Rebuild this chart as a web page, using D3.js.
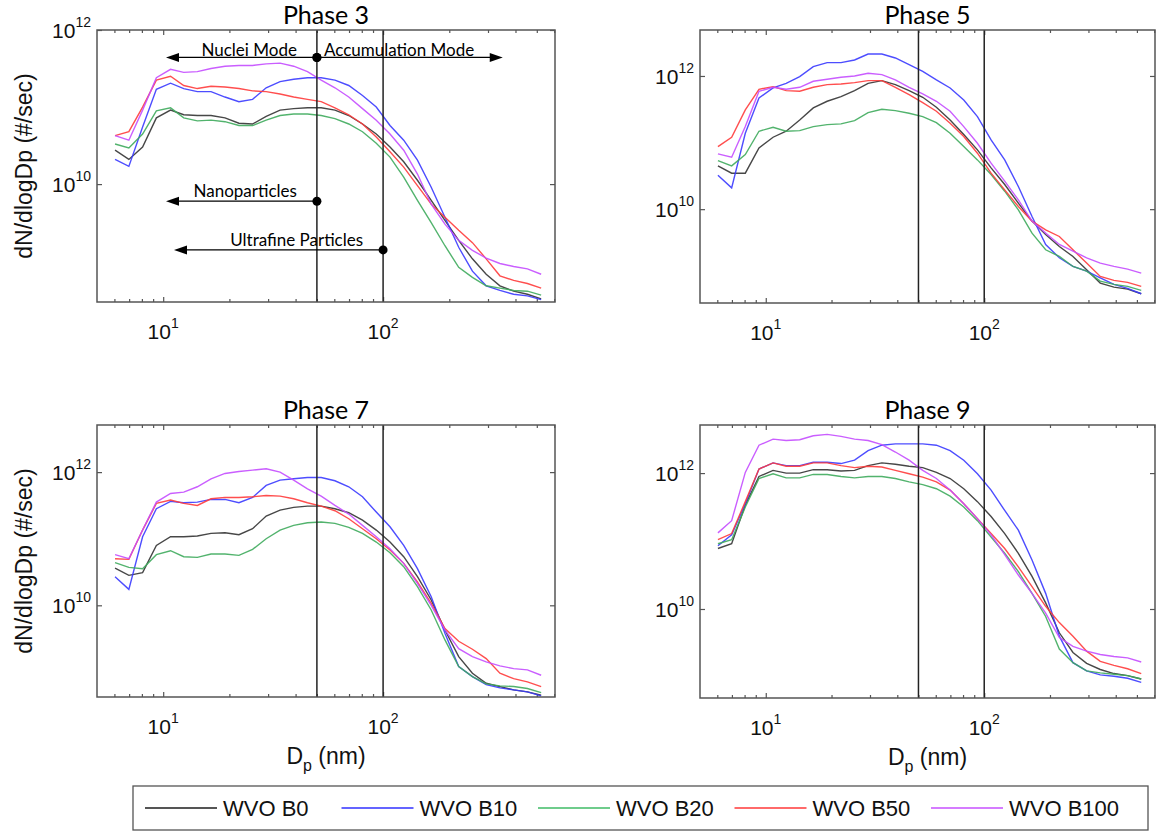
<!DOCTYPE html>
<html>
<head>
<meta charset="utf-8">
<script src="https://cdn.jsdelivr.net/npm/d3@7"></script>
<style>
  body { margin: 0; background: #fff; }
  svg { display: block; }
  .tick text { display: none; }
  .ax { font-family: Arial, "Liberation Sans", Helvetica, sans-serif; }
  .note { font-family: Lato, "Open Sans", sans-serif; }
</style>
</head>
<body>
<svg id="chart" width="1157" height="832"></svg>
<script>
// particle diameter bins (nm)
const diameters = [6.04, 6.98, 8.06, 9.31, 10.8, 12.4, 14.3, 16.5, 19.1, 22.1, 25.5, 29.4, 34.0, 39.2, 45.3, 52.3,
  60.4, 69.8, 80.6, 93.1, 107.5, 124.1, 143.3, 165.5, 191.1, 220.7, 254.8, 294.3, 339.8, 392.4, 453.2, 523.3]
const fuels = ['WVO B0', 'WVO B10', 'WVO B20', 'WVO B50', 'WVO B100']
const phases = ['Phase 3', 'Phase 5', 'Phase 7', 'Phase 9']
const modeCuts = [50, 100]   // nm, vertical reference lines
const xMajor = [10, 100]
const xMinor = [6, 7, 8, 9, 20, 30, 40, 50, 60, 70, 80, 90, 200, 300, 400, 500, 600]
const yTicks = [1e10, 1e12]

// log10 of dN/dlogDp (#/sec)
const phase3_B0   = [10.44, 10.32, 10.48, 10.86, 10.96, 10.90, 10.89, 10.89, 10.86, 10.79, 10.78, 10.88, 10.96, 10.98, 10.99, 10.99, 10.96, 10.89, 10.78, 10.65, 10.48, 10.29, 10.05, 9.79, 9.53, 9.27, 9.03, 8.83, 8.68, 8.61, 8.57, 8.51]
const phase3_B10  = [10.32, 10.23, 10.74, 11.23, 11.31, 11.24, 11.20, 11.20, 11.13, 11.07, 11.10, 11.25, 11.33, 11.36, 11.38, 11.38, 11.35, 11.28, 11.15, 11.00, 10.76, 10.57, 10.31, 9.96, 9.57, 9.18, 8.87, 8.68, 8.62, 8.57, 8.55, 8.50]
const phase3_B20  = [10.52, 10.47, 10.65, 10.95, 10.99, 10.86, 10.82, 10.83, 10.81, 10.76, 10.76, 10.83, 10.89, 10.91, 10.91, 10.89, 10.85, 10.78, 10.68, 10.53, 10.35, 10.09, 9.79, 9.50, 9.20, 8.92, 8.79, 8.68, 8.65, 8.62, 8.61, 8.56]
const phase3_B50  = [10.63, 10.68, 11.00, 11.35, 11.40, 11.28, 11.24, 11.27, 11.26, 11.24, 11.21, 11.20, 11.17, 11.13, 11.10, 11.07, 10.99, 10.90, 10.78, 10.61, 10.42, 10.22, 9.98, 9.74, 9.57, 9.40, 9.24, 9.03, 8.81, 8.75, 8.71, 8.65]
const phase3_B100 = [10.63, 10.57, 10.96, 11.38, 11.49, 11.45, 11.46, 11.50, 11.53, 11.54, 11.54, 11.56, 11.57, 11.53, 11.46, 11.35, 11.25, 11.13, 10.98, 10.83, 10.65, 10.44, 10.13, 9.74, 9.48, 9.27, 9.14, 9.04, 8.97, 8.93, 8.90, 8.83]

const phase5_B0   = [10.65, 10.54, 10.54, 10.92, 11.08, 11.17, 11.34, 11.52, 11.62, 11.69, 11.78, 11.89, 11.93, 11.87, 11.78, 11.68, 11.53, 11.34, 11.12, 10.89, 10.62, 10.37, 10.09, 9.82, 9.62, 9.44, 9.29, 9.09, 8.89, 8.83, 8.80, 8.73]
const phase5_B10  = [10.51, 10.32, 11.14, 11.67, 11.82, 11.89, 11.99, 12.14, 12.20, 12.20, 12.24, 12.33, 12.33, 12.27, 12.17, 12.07, 11.94, 11.82, 11.64, 11.39, 11.04, 10.74, 10.34, 9.89, 9.47, 9.27, 9.14, 9.07, 8.97, 8.87, 8.81, 8.73]
const phase5_B20  = [10.73, 10.65, 10.82, 11.17, 11.23, 11.17, 11.18, 11.24, 11.27, 11.28, 11.33, 11.45, 11.50, 11.48, 11.44, 11.39, 11.30, 11.14, 10.94, 10.74, 10.52, 10.27, 9.99, 9.64, 9.39, 9.29, 9.14, 9.07, 8.92, 8.87, 8.84, 8.78]
const phase5_B50  = [10.94, 11.08, 11.49, 11.80, 11.84, 11.78, 11.77, 11.83, 11.87, 11.88, 11.90, 11.93, 11.93, 11.83, 11.72, 11.60, 11.47, 11.29, 11.09, 10.84, 10.54, 10.29, 10.04, 9.82, 9.69, 9.59, 9.39, 9.19, 8.99, 8.93, 8.90, 8.84]
const phase5_B100 = [10.83, 10.78, 11.24, 11.77, 11.83, 11.80, 11.83, 11.92, 11.95, 11.98, 12.00, 12.04, 12.02, 11.94, 11.83, 11.73, 11.62, 11.47, 11.24, 10.99, 10.69, 10.42, 10.14, 9.82, 9.64, 9.47, 9.37, 9.27, 9.19, 9.14, 9.10, 9.04]

const phase7_B0   = [10.56, 10.45, 10.49, 10.90, 11.03, 11.03, 11.04, 11.08, 11.09, 11.06, 11.15, 11.34, 11.43, 11.47, 11.49, 11.49, 11.45, 11.39, 11.28, 11.13, 10.95, 10.73, 10.43, 10.08, 9.63, 9.23, 8.98, 8.83, 8.78, 8.73, 8.70, 8.65]
const phase7_B10  = [10.43, 10.24, 11.03, 11.45, 11.56, 11.54, 11.55, 11.59, 11.59, 11.54, 11.62, 11.80, 11.88, 11.90, 11.92, 11.92, 11.87, 11.78, 11.63, 11.40, 11.18, 10.90, 10.55, 10.13, 9.58, 9.08, 8.93, 8.81, 8.76, 8.73, 8.70, 8.64]
const phase7_B20  = [10.64, 10.57, 10.55, 10.76, 10.82, 10.73, 10.72, 10.77, 10.77, 10.75, 10.84, 11.00, 11.13, 11.20, 11.24, 11.25, 11.23, 11.17, 11.08, 10.95, 10.79, 10.58, 10.28, 9.93, 9.48, 9.08, 8.93, 8.82, 8.79, 8.78, 8.75, 8.69]
const phase7_B50  = [10.70, 10.69, 11.13, 11.53, 11.58, 11.53, 11.50, 11.60, 11.62, 11.62, 11.63, 11.65, 11.64, 11.60, 11.54, 11.49, 11.42, 11.30, 11.15, 11.00, 10.83, 10.63, 10.35, 10.03, 9.65, 9.46, 9.34, 9.20, 8.98, 8.90, 8.85, 8.78]
const phase7_B100 = [10.76, 10.70, 11.13, 11.55, 11.68, 11.70, 11.78, 11.90, 11.98, 12.01, 12.03, 12.05, 12.00, 11.88, 11.75, 11.64, 11.50, 11.37, 11.20, 11.03, 10.85, 10.63, 10.33, 10.00, 9.63, 9.35, 9.23, 9.15, 9.09, 9.05, 9.03, 8.95]

const phase9_B0   = [10.89, 10.96, 11.53, 11.95, 12.04, 12.00, 12.00, 12.05, 12.05, 12.03, 12.04, 12.11, 12.15, 12.13, 12.10, 12.08, 12.01, 11.92, 11.77, 11.58, 11.36, 11.11, 10.82, 10.48, 10.09, 9.65, 9.36, 9.20, 9.11, 9.05, 9.02, 8.97]
const phase9_B10  = [10.93, 11.09, 11.55, 12.06, 12.15, 12.11, 12.11, 12.16, 12.16, 12.14, 12.19, 12.33, 12.41, 12.43, 12.43, 12.43, 12.41, 12.33, 12.19, 11.99, 11.75, 11.45, 11.16, 10.72, 10.23, 9.60, 9.21, 9.09, 9.03, 9.01, 8.98, 8.92]
const phase9_B20  = [10.96, 11.02, 11.50, 11.92, 11.99, 11.93, 11.93, 11.98, 11.98, 11.95, 11.93, 11.95, 11.95, 11.92, 11.87, 11.83, 11.77, 11.66, 11.50, 11.30, 11.06, 10.82, 10.55, 10.23, 9.89, 9.41, 9.21, 9.09, 9.06, 9.04, 9.02, 8.97]
const phase9_B50  = [11.02, 11.11, 11.58, 12.06, 12.15, 12.10, 12.10, 12.15, 12.15, 12.11, 12.08, 12.10, 12.09, 12.04, 11.99, 11.94, 11.87, 11.75, 11.55, 11.33, 11.11, 10.89, 10.62, 10.33, 10.04, 9.80, 9.60, 9.38, 9.23, 9.17, 9.12, 9.05]
const phase9_B100 = [11.12, 11.30, 12.01, 12.41, 12.50, 12.48, 12.49, 12.55, 12.57, 12.54, 12.50, 12.48, 12.42, 12.31, 12.19, 12.04, 11.92, 11.75, 11.55, 11.33, 11.09, 10.80, 10.50, 10.23, 9.94, 9.58, 9.45, 9.38, 9.33, 9.30, 9.28, 9.22]

// y-axis ranges of each panel (#/sec)
const yRanges = [[2.95e8, 1e12], [3.9e8, 4.9e12], [4.2e8, 5.1e12], [4.9e8, 5.1e12]]

// phase 3 size-class annotations: arrow from dot (nm) to tip (nm) at height y
const notes = [
  { text: 'Nuclei Mode', from: 50, to: 10.3, y: 4.4e11 },
  { text: 'Accumulation Mode', from: 50, to: 350, y: 4.4e11 },
  { text: 'Nanoparticles', from: 50, to: 10.3, y: 6e9 },
  { text: 'Ultrafine Particles', from: 100, to: 11.2, y: 1.4e9 }
]

const seriesByPhase = [
  [phase3_B0, phase3_B10, phase3_B20, phase3_B50, phase3_B100],
  [phase5_B0, phase5_B10, phase5_B20, phase5_B50, phase5_B100],
  [phase7_B0, phase7_B10, phase7_B20, phase7_B50, phase7_B100],
  [phase9_B0, phase9_B10, phase9_B20, phase9_B50, phase9_B100]
]

const colors = ['#333333', '#3a3aff', '#3fab5d', '#ff3b3b', '#c44dff']
const legendColors = ['#555555', '#6464ff', '#6fcc8c', '#ff6a6a', '#d57cff']
const boxes = [
  { x0: 97, x1: 555, y0: 30, y1: 302 },
  { x0: 700, x1: 1155, y0: 30, y1: 303 },
  { x0: 97, x1: 555, y0: 425, y1: 697 },
  { x0: 700, x1: 1155, y0: 425, y1: 698 }
]

const svg = d3.select('#chart')

function powerLabel(text, v) {
  text.append('tspan').text('10')
  text.append('tspan').attr('dy', -11).attr('font-size', 14).text(Math.round(Math.log10(v)))
}

phases.forEach((phase, p) => {
  const b = boxes[p]
  const x = d3.scaleLog().domain([5, 605]).range([b.x0, b.x1])
  const y = d3.scaleLog().domain(yRanges[p]).range([b.y1, b.y0])
  const g = svg.append('g')

  g.append('clipPath').attr('id', 'clip' + p)
    .append('rect').attr('x', b.x0).attr('y', b.y0).attr('width', b.x1 - b.x0).attr('height', b.y1 - b.y0)

  // ticks, drawn inwards on all four sides
  const tickAxis = (axis, vals, len, tr) => {
    g.append('g').attr('transform', tr)
      .call(axis.tickValues(vals).tickSize(-len).tickFormat(''))
      .call(s => s.select('.domain').remove())
      .call(s => s.selectAll('line').attr('stroke', '#555').attr('stroke-width', 1.2))
  }
  tickAxis(d3.axisBottom(x), xMinor, 3, `translate(0,${b.y1})`)
  tickAxis(d3.axisBottom(x), xMajor, 5, `translate(0,${b.y1})`)
  tickAxis(d3.axisTop(x), xMinor, 3, `translate(0,${b.y0})`)
  tickAxis(d3.axisTop(x), xMajor, 5, `translate(0,${b.y0})`)
  tickAxis(d3.axisLeft(y), yTicks, 5, `translate(${b.x0},0)`)
  tickAxis(d3.axisRight(y), yTicks, 5, `translate(${b.x1},0)`)

  // tick labels
  xMajor.forEach(v => {
    const t = g.append('text').attr('class', 'ax').attr('x', x(v)).attr('y', b.y1 + 37)
      .attr('text-anchor', 'middle').attr('font-size', 21).attr('fill', '#111')
    powerLabel(t, v)
  })
  yTicks.forEach(v => {
    const t = g.append('text').attr('class', 'ax').attr('x', b.x0 - 6).attr('y', y(v) + 8)
      .attr('text-anchor', 'end').attr('font-size', 21).attr('fill', '#111')
    powerLabel(t, v)
  })

  // series
  const line = d3.line().x(d => x(d[0])).y(d => y(d[1]))
  const lines = g.append('g').attr('clip-path', `url(#clip${p})`)
  seriesByPhase[p].forEach((vals, i) => {
    lines.append('path')
      .datum(diameters.map((dp, k) => [dp, Math.pow(10, vals[k])]))
      .attr('d', line)
      .attr('fill', 'none')
      .attr('stroke', colors[i])
      .attr('stroke-width', 1.4)
      .attr('stroke-opacity', 0.9)
  })

  // 50 nm and 100 nm cut lines
  modeCuts.forEach(c => {
    g.append('line').attr('x1', x(c)).attr('x2', x(c)).attr('y1', b.y0).attr('y2', b.y1)
      .attr('stroke', '#222').attr('stroke-width', 1.5)
  })

  // box
  g.append('rect').attr('x', b.x0).attr('y', b.y0).attr('width', b.x1 - b.x0).attr('height', b.y1 - b.y0)
    .attr('fill', 'none').attr('stroke', '#555').attr('stroke-width', 1.5)

  // title
  g.append('text').attr('class', 'note').attr('x', (b.x0 + b.x1) / 2).attr('y', b.y0 - 6)
    .attr('text-anchor', 'middle').attr('font-size', 25).attr('fill', '#000')
    .text(phase)

  // axis titles
  if (p % 2 === 0) {
    g.append('text').attr('class', 'ax')
      .attr('transform', `translate(32,${(b.y0 + b.y1) / 2}) rotate(-90)`)
      .attr('text-anchor', 'middle').attr('font-size', 23).attr('fill', '#111')
      .text('dN/dlogDp (#/sec)')
  }
  if (p >= 2) {
    const t = g.append('text').attr('class', 'ax').attr('x', (b.x0 + b.x1) / 2).attr('y', b.y1 + 67)
      .attr('text-anchor', 'middle').attr('font-size', 23).attr('fill', '#111')
    t.append('tspan').text('D')
    t.append('tspan').attr('dy', 7).attr('font-size', 16).text('p')
    t.append('tspan').attr('dy', -7).text(' (nm)')
  }

  // annotations on phase 3
  if (p === 0) {
    const a = g.append('g')
    notes.forEach(n => {
      const x0 = x(n.from), x1 = x(n.to), yy = y(n.y)
      const dir = x1 < x0 ? -1 : 1
      a.append('line').attr('x1', x0).attr('x2', x1 - dir * 10).attr('y1', yy).attr('y2', yy)
        .attr('stroke', '#000').attr('stroke-width', 1.3)
      a.append('path')
        .attr('d', `M${x1},${yy} L${x1 - dir * 13},${yy - 4.5} L${x1 - dir * 13},${yy + 4.5} Z`)
        .attr('fill', '#000')
      a.append('circle').attr('cx', x0).attr('cy', yy).attr('r', 4.5).attr('fill', '#000')
      a.append('text').attr('class', 'note')
        .attr('x', dir < 0 ? x0 - 20 : x0 + 7)
        .attr('y', yy - (n.y > 1e11 ? 1 : 4))
        .attr('text-anchor', dir < 0 ? 'end' : 'start')
        .attr('font-size', 17).attr('fill', '#000')
        .text(n.text)
    })
  }
})

// legend
const lg = svg.append('g')
lg.append('rect').attr('x', 133).attr('y', 786).attr('width', 1015).attr('height', 44)
  .attr('fill', '#fff').attr('stroke', '#555').attr('stroke-width', 1.3)
const legendX = d3.scalePoint().domain(fuels).range([145, 931])
fuels.forEach((f, i) => {
  const lx = legendX(f)
  lg.append('line').attr('x1', lx).attr('x2', lx + 72).attr('y1', 808).attr('y2', 808)
    .attr('stroke', legendColors[i]).attr('stroke-width', 2)
  lg.append('text').attr('class', 'ax').attr('x', lx + 78).attr('y', 816)
    .attr('font-size', 22).attr('fill', '#111')
    .text(f)
})
</script>
</body>
</html>
